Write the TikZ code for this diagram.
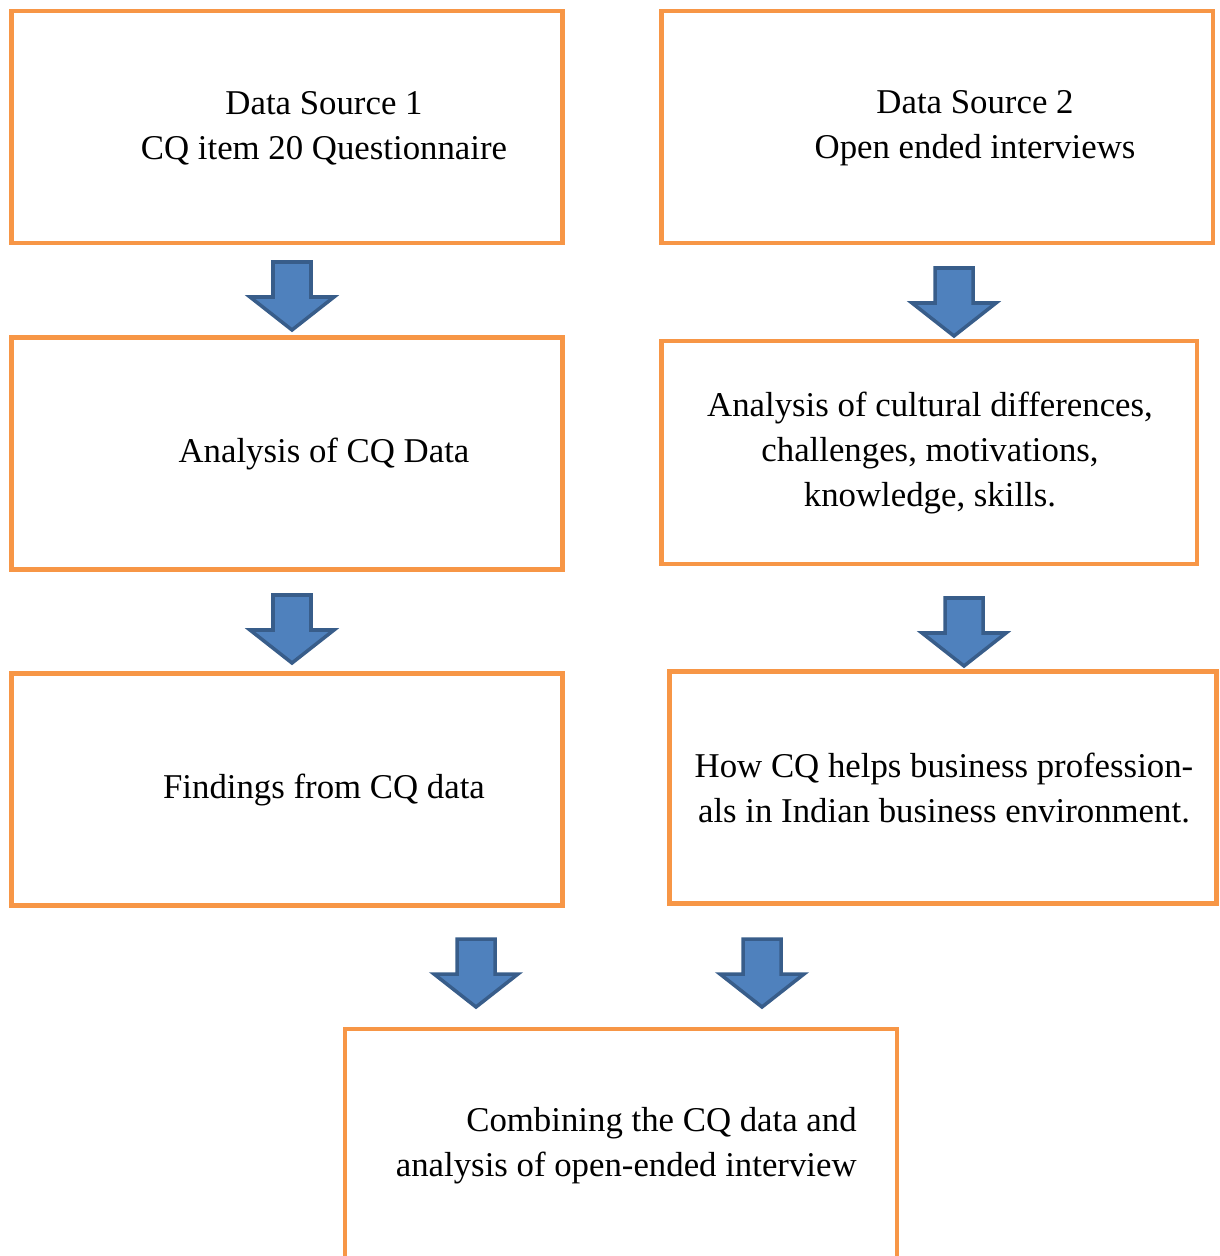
\documentclass[tikz,border=0pt]{standalone}
\usepackage{fontspec}
\setmainfont{Liberation Serif}
\usetikzlibrary{positioning}
\definecolor{boxorange}{HTML}{F79646}
\definecolor{arrowblue}{HTML}{4F81BD}
\definecolor{arrowedge}{HTML}{385D8A}
\begin{document}
\begin{tikzpicture}[x=0.02cm,y=-0.02cm]
		\tikzset{box/.style = {shape=rectangle,draw=boxorange,line width=2.8pt,minimum width=11.04cm,minimum height=4.64cm,inner sep=0pt}}
		\tikzset{boxtext/.style = {align=center,font=\fontsize{19.8}{25.6}\selectfont,inner sep=0pt}}
		\tikzset{blockarrow/.pic = {
			\draw[fill=arrowblue,draw=arrowedge,line width=2pt,line join=miter]
			(-19,2) -- (19,2) -- (19,37) -- (42,37) -- (0,70) -- (-42,37) -- (-19,37) -- cycle;}}
		\useasboundingbox (0,0) rectangle (1219,1256);
		% boxes
		\node[box] (src1) at (287,127) {};
		\node[box] (src2) at (937,127) {};
		\node[box] (cqa) at (287,453.5) {};
		\node[box,minimum width=10.72cm,minimum height=4.46cm] (cult) at (929,452.5) {};
		\node[box] (find) at (287,789.5) {};
		\node[box,minimum width=10.94cm] (help) at (943,787.5) {};
		\draw[draw=boxorange,line width=2.8pt] (345,1290) |- (897,1029) -- (897,1290);
		
		% texts
		\node[boxtext] (src1t) at (324,128) {Data Source 1\\CQ item 20 Questionnaire};
		\node[boxtext] (src2t) at (975,128) {Data Source 2\\Open ended interviews};
		\node[boxtext] (cqat) at (324,454) {Analysis of CQ Data};
		\node[boxtext] (cultt) at (930,453) {Analysis of cultural differences,\\challenges, motivations,\\knowledge, skills.};
		\node[boxtext] (findt) at (324,790) {Findings from CQ data};
		\node[boxtext] (helpt) at (944,788) {How CQ helps business profession-\\als in Indian business environment.};
		\node[boxtext,align=right,anchor=east] (combt) at (857,1146) {Combining the CQ data and\\analysis of open-ended interview};
		
		% arrows
		\pic at (292,260) {blockarrow};
		\pic at (954,266) {blockarrow};
		\pic at (292,593) {blockarrow};
		\pic at (964,596) {blockarrow};
		\pic at (476,937) {blockarrow};
		\pic at (762,937) {blockarrow};
\end{tikzpicture}
\end{document}
